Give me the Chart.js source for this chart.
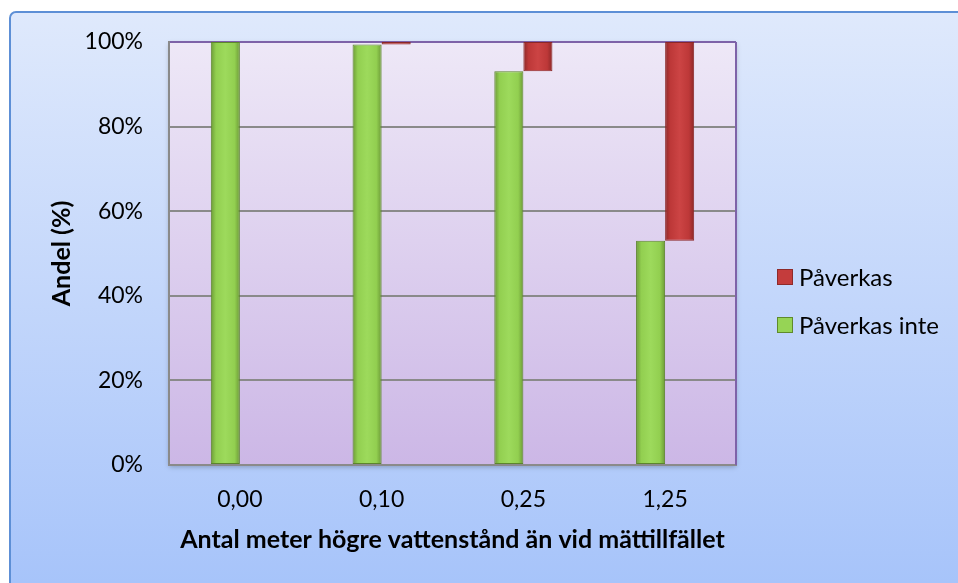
<!DOCTYPE html>
<html>
<head>
<meta charset="utf-8">
<script src="https://cdn.jsdelivr.net/npm/chart.js@4/dist/chart.umd.min.js"></script>
<style>
  body { margin: 0; background: #fff; }
  #wrap { width: 958px; height: 583px; }
</style>
</head>
<body>
<div id="wrap"><canvas id="chart" width="958" height="583"></canvas></div>
<script>
// data
const categories = ["0,00", "0,10", "0,25", "1,25"];
const paverkasInte = [100, 99.4, 93.1, 53.0];
const paverkas = [0, 0.6, 6.9, 47.0];
const yTicks = [0, 20, 40, 60, 80, 100];

const seriesNames = ["Påverkas", "Påverkas inte"];
const FONT = "Lato";

// red bars float on top of the green ones
const paverkasRanges = paverkasInte.map((v, i) => [v, v + paverkas[i]]);

function barGradient(ctx, stops, side) {
    const chart = ctx.chart;
    const xs = chart.scales.x;
    if (!chart.chartArea || !xs) return stops[2];
    const c = xs.getPixelForValue(ctx.dataIndex);
    const w = (xs.width / categories.length) * 0.41 / 2;
    const x0 = side < 0 ? c - w : c;
    const g = chart.ctx.createLinearGradient(x0, 0, x0 + w, 0);
    g.addColorStop(0, stops[0]);
    g.addColorStop(0.18, stops[1]);
    g.addColorStop(0.5, stops[2]);
    g.addColorStop(0.82, stops[1]);
    g.addColorStop(1, stops[0]);
    return g;
}

const backgroundPlugin = {
    id: "backgrounds",
    beforeDraw(chart) {
        const c = chart.ctx;
        const a = chart.chartArea;
        c.save();
        c.fillStyle = "#ffffff";
        c.fillRect(0, 0, chart.width, chart.height);
        // outer box
        let g = c.createLinearGradient(0, 12, 0, chart.height);
        g.addColorStop(0, "#dfe9fc");
        g.addColorStop(1, "#a7c4fa");
        c.fillStyle = g;
        c.beginPath();
        c.roundRect(10, 12, chart.width + 20, chart.height + 20, 6);
        c.fill();
        c.strokeStyle = "#5d8fd6";
        c.lineWidth = 2;
        c.stroke();
        // plot area
        g = c.createLinearGradient(0, a.top, 0, a.bottom);
        g.addColorStop(0, "#eee8f7");
        g.addColorStop(1, "#ccb7e6");
        c.shadowColor = "rgba(0,0,0,0.25)";
        c.shadowBlur = 5;
        c.shadowOffsetY = 2;
        c.fillStyle = g;
        c.fillRect(a.left, a.top, a.right - a.left, a.bottom - a.top);
        c.restore();
    },
    beforeDatasetsDraw(chart) {
        const c = chart.ctx;
        const a = chart.chartArea;
        c.save();
        c.strokeStyle = "#7e62a8";
        c.lineWidth = 2;
        c.beginPath();
        c.moveTo(a.right, a.top);
        c.lineTo(a.right, a.bottom);
        c.stroke();
        c.restore();
    },
    afterDraw(chart) {
        // legend, red first as in the original
        const c = chart.ctx;
        const items = [
            { text: seriesNames[0], fill: "#c43c3c", edge: "#8e2a2a", y: 277 },
            { text: seriesNames[1], fill: "#96d455", edge: "#5f8a2c", y: 325 }
        ];
        c.save();
        c.font = "24px " + FONT;
        c.textBaseline = "middle";
        c.fillStyle = "#000";
        items.forEach(it => {
            c.fillStyle = it.fill;
            c.fillRect(777, it.y - 8, 16, 16);
            c.strokeStyle = it.edge;
            c.lineWidth = 1;
            c.strokeRect(777.5, it.y - 7.5, 15, 15);
            c.fillStyle = "#000";
            c.fillText(it.text, 799, it.y + 1);
        });
        c.restore();
    }
};

new Chart(document.getElementById("chart"), {
    type: "bar",
    data: {
        labels: categories,
        datasets: [
            {
                label: seriesNames[1],
                data: paverkasInte,
                backgroundColor: ctx => barGradient(ctx, ["#6c9a37", "#92cf50", "#9dda5c"], -1),
                borderColor: "#5c852c",
                borderWidth: 1,
                borderSkipped: false
            },
            {
                label: seriesNames[0],
                data: paverkasRanges,
                backgroundColor: ctx => barGradient(ctx, ["#8c2828", "#bd3838", "#cc4444"], 1),
                borderColor: "#8a2626",
                borderWidth: 1,
                borderSkipped: false
            }
        ]
    },
    options: {
        responsive: false,
        animation: false,
        categoryPercentage: 0.41,
        barPercentage: 1,
        layout: { padding: { left: 0, top: 42, right: 222, bottom: 0 } },
        scales: {
            x: {
                afterFit: s => { s.height = 118; },
                grid: { display: false, drawTicks: false },
                border: { display: true, color: "#8a8a8a", width: 2 },
                ticks: { color: "#000", padding: 21, font: { family: FONT, size: 23 } },
                title: {
                    display: true,
                    text: "Antal meter högre vattenstånd än vid mättillfället",
                    color: "#000",
                    padding: { top: 0, bottom: 28 },
                    font: { family: FONT, size: 25, weight: "bold" }
                }
            },
            y: {
                min: 0,
                max: 100,
                afterFit: s => { s.width = 169; },
                afterBuildTicks: s => { s.ticks = yTicks.map(v => ({ value: v })); },
                grid: {
                    drawTicks: false,
                    lineWidth: 2,
                    color: ctx => ctx.tick && ctx.tick.value === 100 ? "#7e62a8" : "#8a8a8a"
                },
                border: { display: true, color: "#8a8a8a", width: 2 },
                ticks: {
                    color: "#000",
                    padding: 26,
                    font: { family: FONT, size: 23 },
                    callback: v => v + "%"
                },
                title: {
                    display: true,
                    text: "Andel (%)",
                    color: "#000",
                    padding: { top: 47, bottom: 0 },
                    font: { family: FONT, size: 25, weight: "bold" }
                }
            }
        },
        plugins: {
            legend: { display: false },
            tooltip: { enabled: false }
        }
    },
    plugins: [backgroundPlugin]
});
</script>
</body>
</html>
